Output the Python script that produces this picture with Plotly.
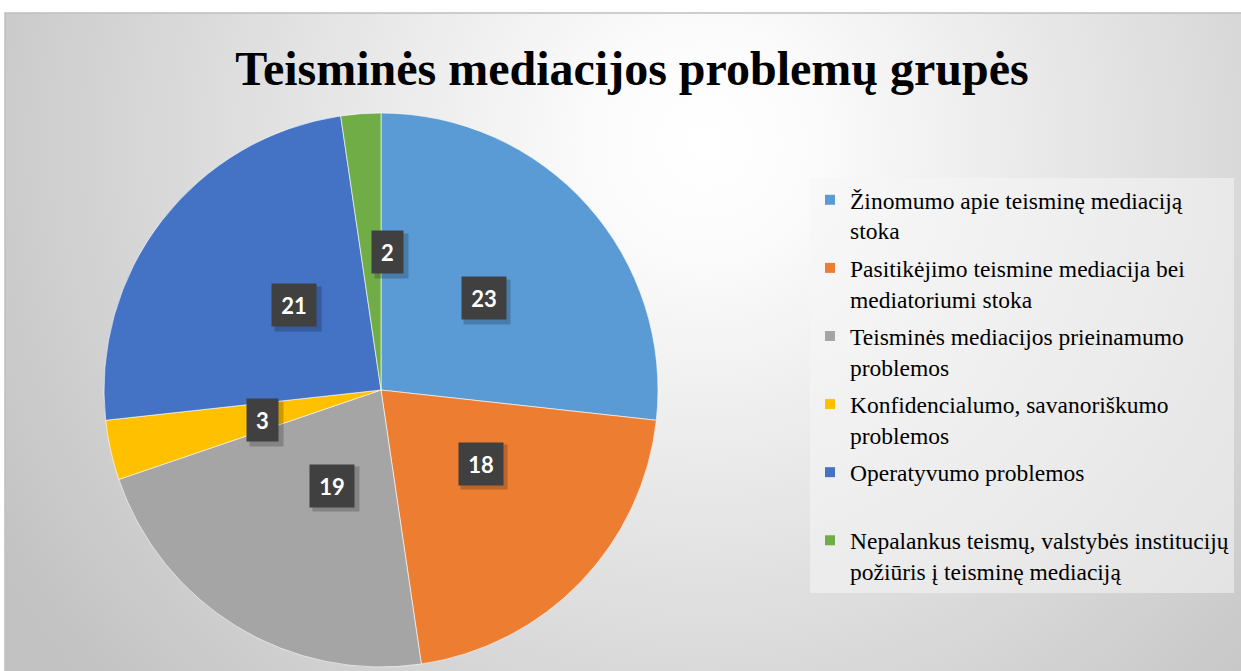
import base64, math
import plotly.graph_objects as go

labels = [
    "Žinomumo apie teisminę mediaciją<br>stoka",
    "Pasitikėjimo teismine mediacija bei<br>mediatoriumi stoka",
    "Teisminės mediacijos prieinamumo<br>problemos",
    "Konfidencialumo, savanoriškumo<br>problemos",
    "Operatyvumo problemos<br>\u00a0",
    "Nepalankus teismų, valstybės institucijų<br>požiūris į teisminę mediaciją",
]
values = [23, 18, 19, 3, 21, 2]
colors = ["#5B9BD5", "#ED7D31", "#A5A5A5", "#FFC000", "#4472C4", "#70AD47"]
title_text = "Teisminės mediacijos problemų grupės"

W, H = 1241, 671


def px(xp):
    return xp / W


def py(yp):
    return 1 - yp / H


cx_px, cy_px, R = 381, 390, 277

fig = go.Figure()
fig.add_trace(go.Pie(
    labels=labels, values=values, sort=False, direction="clockwise", rotation=0,
    marker=dict(colors=colors, line=dict(color="rgba(255,255,255,0.6)", width=1)),
    textinfo="none", hoverinfo="label+value", showlegend=False,
    domain=dict(x=[px(cx_px - R), px(cx_px + R)],
                y=[py(cy_px + R), py(cy_px - R)]),
))

# legend entries (one group per category so the gap between them can be set)
for i, (lab, col) in enumerate(zip(labels, colors)):
    fig.add_trace(go.Scatter(
        x=[None], y=[None], mode="markers", name=lab, legendgroup=f"g{i}",
        marker=dict(symbol="square", size=10, color=col), showlegend=True,
    ))

# data labels at mid-angle, half radius
total = sum(values)
cum = 0
for v in values:
    mid = (cum + v / 2) / total * 2 * math.pi
    cum += v
    x = px(cx_px + 0.5 * R * math.sin(mid))
    y = py(cy_px - 0.5 * R * math.cos(mid))
    bw_txt = 13 * len(str(v))
    fig.add_annotation(x=x, y=y, xref="paper", yref="paper", xshift=3, yshift=-4,
                       text="\u00a0", showarrow=False, width=bw_txt, height=24,
                       font=dict(family="Lato", size=10, color="rgba(0,0,0,0)"),
                       bgcolor="rgba(0,0,0,0.2)", borderpad=10)
    fig.add_annotation(x=x, y=y, xref="paper", yref="paper",
                       text=f"<b>{v}</b>", showarrow=False, width=bw_txt, height=24,
                       font=dict(family="Lato", size=22, color="white"),
                       bgcolor="#404040", borderpad=9)

bw, bh = 1236, 658
svg = (f'<svg xmlns="http://www.w3.org/2000/svg" width="{bw}" height="{bh}" '
       f'viewBox="0 0 {bw} {bh}" preserveAspectRatio="none"><defs>'
       '<radialGradient id="g" gradientUnits="userSpaceOnUse" cx="700" cy="130" r="820">'
       '<stop offset="0" stop-color="#ffffff"/><stop offset="0.12" stop-color="#fcfcfc"/>'
       '<stop offset="1" stop-color="#c2c2c2"/></radialGradient></defs>'
       f'<rect width="{bw}" height="{bh}" fill="url(#g)"/></svg>')
src = "data:image/svg+xml;base64," + base64.b64encode(svg.encode()).decode()

x0, y0 = px(5), py(13)
fig.add_layout_image(source=src, xref="paper", yref="paper", x=x0, y=y0,
                     sizex=1 - x0, sizey=y0, xanchor="left", yanchor="top",
                     sizing="stretch", layer="below")
fig.add_shape(type="rect", xref="paper", yref="paper", x0=x0, y0=-0.01, x1=1.01, y1=y0,
              line=dict(color="#bfbfbf", width=1.5), layer="below")

fig.update_layout(
    width=W, height=H,
    margin=dict(l=0, r=0, t=0, b=0),
    paper_bgcolor="white", plot_bgcolor="rgba(0,0,0,0)",
    xaxis=dict(visible=False), yaxis=dict(visible=False),
    title=dict(text=f"<b>{title_text}</b>", x=px(632), xanchor="center",
               y=py(68), yanchor="middle", yref="container",
               font=dict(family="Liberation Serif", size=48, color="black")),
    legend=dict(x=px(810), y=py(178), xanchor="left", yanchor="top",
                bgcolor="rgba(245,245,245,0.55)", valign="top",
                font=dict(family="Liberation Serif", size=23.5, color="black"),
                itemwidth=30, tracegroupgap=4, traceorder="grouped"),
    showlegend=True,
)

fig.write_html("out.html", config=dict(displayModeBar=False),
               post_script="document.body.style.margin='0';document.body.style.overflow='hidden';")
